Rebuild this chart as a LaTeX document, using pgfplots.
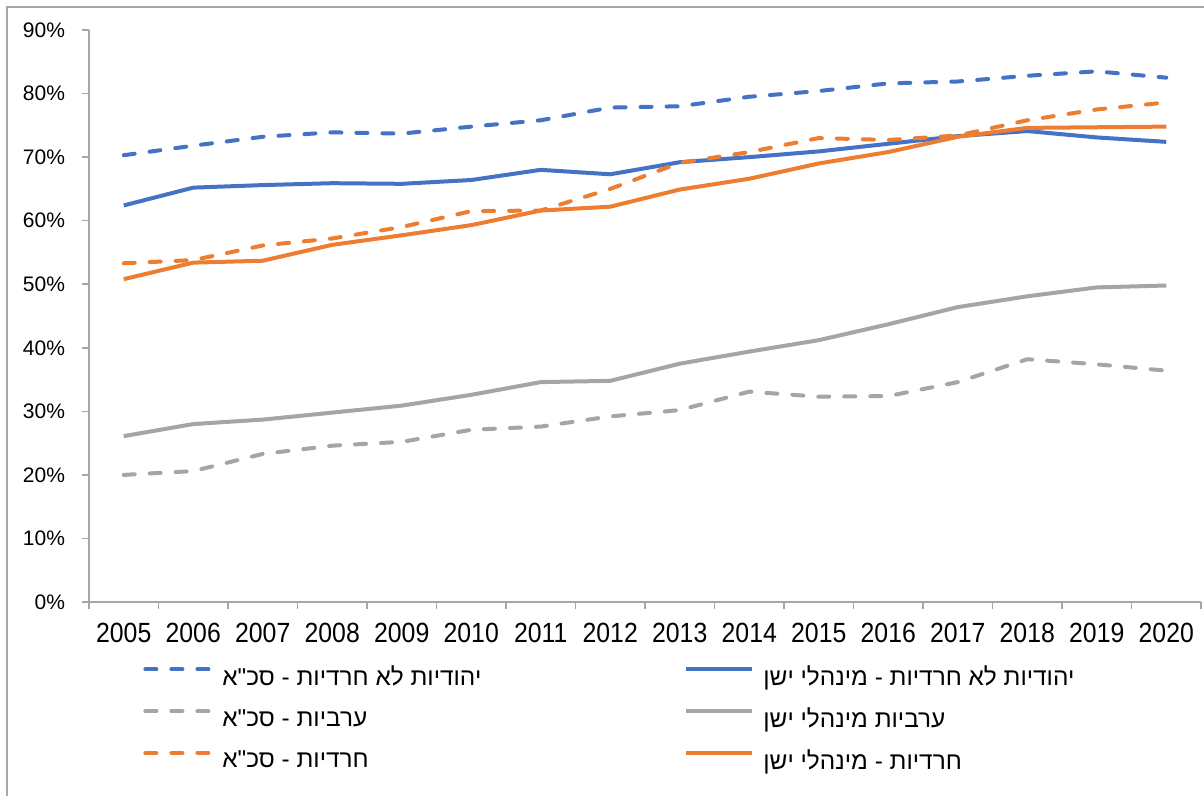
\documentclass[border=0pt]{standalone}
\usepackage{fontspec}
\setmainfont{Liberation Sans}
\newfontfamily\hebfont[Script=Hebrew,Ligatures=TeXOff]{Liberation Sans}
\TeXXeTstate=1
\usepackage{graphicx}
\usepackage{pgfplots}
\usepackage{pgfplotstable}
\pgfplotsset{compat=1.18}
\definecolor{cblue}{HTML}{4472C4}
\definecolor{corange}{HTML}{ED7D31}
\definecolor{cgray}{HTML}{A5A5A5}
\definecolor{axgray}{HTML}{A6A6A6}
\definecolor{frgray}{HTML}{A6A6A6}

\pgfplotstableread{
x BD BS GD GS OD OS
0 70.3 62.4 20.0 26.1 53.3 50.8
1 71.8 65.2 20.6 28.0 53.8 53.4
2 73.2 65.6 23.3 28.7 56.1 53.7
3 73.9 65.9 24.6 29.8 57.2 56.2
4 73.7 65.8 25.2 30.9 59.0 57.7
5 74.8 66.4 27.1 32.6 61.5 59.3
6 75.8 68.0 27.6 34.6 61.6 61.6
7 77.8 67.3 29.2 34.8 65.0 62.2
8 78.0 69.2 30.2 37.5 69.1 64.9
9 79.5 70.0 33.1 39.4 70.8 66.6
10 80.4 70.9 32.3 41.2 73.0 69.0
11 81.6 72.1 32.4 43.7 72.7 70.8
12 81.9 73.3 34.6 46.4 73.4 73.2
13 82.8 74.1 38.2 48.1 75.8 74.6
14 83.5 73.1 37.4 49.5 77.5 74.7
15 82.5 72.4 36.4 49.8 78.6 74.8
}\datatable

\newcommand{\lgstrut}{\rule[-3pt]{0pt}{11pt}}
\newcommand{\sx}[1]{\scalebox{1}[1.12]{#1}}

\begin{document}
\begin{tikzpicture}
\useasboundingbox (0pt,0pt) rectangle (602pt,-398pt);
\draw[frgray, line width=0.75pt] (3.5pt,-402pt) -- (3.5pt,-3.5pt) -- (606pt,-3.5pt);
\begin{axis}[
  at={(44.5pt,-301pt)}, anchor=south west,
  width=556pt, height=286pt, scale only axis,
  xmin=-0.5, xmax=15.5, ymin=0, ymax=90,
  axis x line=bottom, axis y line=left,
  axis line style={draw=axgray, line width=0.75pt, -},
  xtick={0,...,15},
  xticklabels={\sx{2005},\sx{2006},\sx{2007},\sx{2008},\sx{2009},\sx{2010},\sx{2011},\sx{2012},\sx{2013},\sx{2014},\sx{2015},\sx{2016},\sx{2017},\sx{2018},\sx{2019},\sx{2020}},
  xtick style={draw=none},
  extra x ticks={-0.5,0.5,1.5,2.5,3.5,4.5,5.5,6.5,7.5,8.5,9.5,10.5,11.5,12.5,13.5,14.5,15.5},
  extra x tick labels={},
  extra x tick style={xtick style={draw=axgray, line width=0.75pt}},
  ytick={0,10,...,90},
  yticklabel={\pgfmathprintnumber{\tick}\%},
  /pgf/number format/assume math mode=true,
  tick align=outside, major tick length=3.5pt,
  ytick style={draw=axgray, line width=0.75pt},
  x tick label style={font=\fontsize{12.4}{14}\selectfont, yshift=-3.5pt},
  y tick label style={font=\fontsize{10.5}{12}\selectfont, xshift=-5pt},
  every axis plot/.append style={line width=2pt, line join=round, mark=none},
  legend columns=2,
  legend cell align=left,
  legend style={draw=none, fill=none, at={(0.04676,-0.1110)}, anchor=north west,
    inner sep=0pt, column sep=0pt, row sep=9.5pt,
    nodes={inner sep=0pt},
    font=\hebfont\fontsize{12.2}{14}\selectfont},
  legend image code/.code={\draw[#1] (1pt,4pt) -- (34pt,4pt); \path (0pt,0pt) (38.5pt,0pt);},
]
\addplot[cblue, line cap=round, dash pattern=on 5.5pt off 7.5pt] table[x=x,y=BD]{\datatable};
\addlegendentry{\makebox[230pt][l]{\lgstrut\beginR יהודיות לא חרדיות - סכ"א\endR}}
\addplot[cblue] table[x=x,y=BS]{\datatable};
\addlegendentry{\lgstrut\beginR יהודיות לא חרדיות - מינהלי ישן\endR}
\addplot[cgray, line cap=round, dash pattern=on 5.5pt off 7.5pt] table[x=x,y=GD]{\datatable};
\addlegendentry{\makebox[230pt][l]{\lgstrut\beginR ערביות - סכ"א\endR}}
\addplot[cgray] table[x=x,y=GS]{\datatable};
\addlegendentry{\lgstrut\beginR ערביות מינהלי ישן\endR}
\addplot[corange, line cap=round, dash pattern=on 5.5pt off 7.5pt] table[x=x,y=OD]{\datatable};
\addlegendentry{\makebox[230pt][l]{\lgstrut\beginR חרדיות - סכ"א\endR}}
\addplot[corange] table[x=x,y=OS]{\datatable};
\addlegendentry{\lgstrut\beginR חרדיות - מינהלי ישן\endR}
\end{axis}
\end{tikzpicture}
\end{document}
